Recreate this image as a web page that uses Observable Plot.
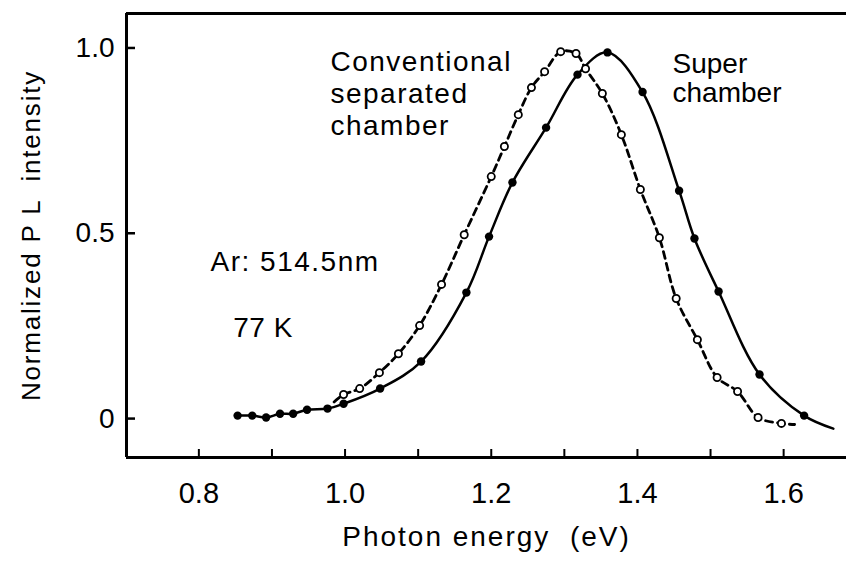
<!DOCTYPE html>
<html>
<head>
<meta charset="utf-8">
<script src="https://cdn.jsdelivr.net/npm/d3@7"></script>
<script src="https://cdn.jsdelivr.net/npm/@observablehq/plot@0.6"></script>
<style>
html, body { margin: 0; padding: 0; background: #fff; }
#chart svg { display: block; }
</style>
</head>
<body>
<div id="chart"></div>
<script>
// ---- Data ----
// Super chamber (filled circles, solid line)
const energySuper    = [0.853, 0.873, 0.892, 0.911, 0.929, 0.948, 0.976, 0.998, 1.048, 1.104, 1.166, 1.197, 1.229, 1.275, 1.318, 1.359, 1.407, 1.457, 1.478, 1.511, 1.567, 1.628];
const intensitySuper = [0.008, 0.008, 0.003, 0.013, 0.013, 0.024, 0.027, 0.040, 0.081, 0.154, 0.340, 0.491, 0.637, 0.785, 0.928, 0.988, 0.881, 0.615, 0.486, 0.343, 0.119, 0.008];
const superTail = {energy: 1.668, intensity: -0.027};

// Conventional separated chamber (open circles, dashed line)
const energyConv    = [0.998, 1.020, 1.047, 1.073, 1.102, 1.132, 1.163, 1.200, 1.218, 1.237, 1.255, 1.273, 1.295, 1.316, 1.329, 1.352, 1.378, 1.404, 1.430, 1.453, 1.482, 1.509, 1.537, 1.565, 1.597];
const intensityConv = [0.065, 0.081, 0.124, 0.175, 0.251, 0.362, 0.496, 0.653, 0.734, 0.820, 0.893, 0.936, 0.990, 0.985, 0.944, 0.877, 0.766, 0.618, 0.488, 0.324, 0.213, 0.111, 0.073, 0.003, -0.013];
const convHead = {energy: 0.985, intensity: 0.045};
const convTail = {energy: 1.615, intensity: -0.016};

// Axes
const xDomain = [0.701, 1.686];
const yDomain = [-0.105, 1.093];
const xTickValues = [0.8, 0.9, 1.0, 1.1, 1.2, 1.3, 1.4, 1.5, 1.6];
const xTickLabelValues = [0.8, 1.0, 1.2, 1.4, 1.6];
const xTickLabels = ["0.8", "1.0", "1.2", "1.4", "1.6"];
const yTickValues = [0, 0.5, 1.0];
const yTickLabels = ["0", "0.5", "1.0"];
const xTitle = "Photon energy  (eV)";
const yTitle = "Normalized P L  intensity";

// Annotations
const notes = [
  {text: "Conventional\nseparated\nchamber", energy: 0.980, intensity: 1.000, lh: 1.15, spacing: "1.5px"},
  {text: "Super\nchamber", energy: 1.448, intensity: 0.990, lh: 1.05, spacing: "0px"},
  {text: "Ar: 514.5nm", energy: 0.816, intensity: 0.451, lh: 1, spacing: "1.5px"},
  {text: "77 K", energy: 0.847, intensity: 0.273, lh: 1, spacing: "0.5px"}
];

// ---- Build tables ----
const superPts = energySuper.map((e, i) => ({energy: e, intensity: intensitySuper[i]}));
const convPts = energyConv.map((e, i) => ({energy: e, intensity: intensityConv[i]}));
const superLine = [...superPts, superTail];
const convLine = [convHead, ...convPts, convTail];

const font = "'Liberation Sans', Arial, Helvetica, sans-serif";

const chart = Plot.plot({
  width: 846,
  height: 563,
  marginLeft: 126,
  marginRight: 0,
  marginTop: 13,
  marginBottom: 106,
  style: {fontFamily: font, background: "#fff", color: "#000", overflow: "visible"},
  x: {domain: xDomain, axis: null},
  y: {domain: yDomain, axis: null},
  marks: [
    // frame: left, top, bottom
    Plot.ruleX([xDomain[0]], {stroke: "#000", strokeWidth: 3}),
    Plot.ruleY(yDomain, {stroke: "#000", strokeWidth: 3}),
    // inward ticks
    Plot.tickX(xTickValues, {x: d => d, insetTop: 436, stroke: "#000", strokeWidth: 2}),
    Plot.tickY(yTickValues, {y: d => d, insetRight: 711, stroke: "#000", strokeWidth: 2.5}),
    // tick labels
    Plot.text(xTickLabelValues, {x: d => d, frameAnchor: "bottom", dy: 45, text: (d, i) => xTickLabels[i], fontSize: 29, fill: "#000"}),
    Plot.text(yTickValues, {y: d => d, frameAnchor: "left", dx: -12, textAnchor: "end", text: (d, i) => yTickLabels[i], fontSize: 28, fill: "#000"}),
    // titles
    Plot.text([xTitle], {frameAnchor: "bottom", dy: 88, text: d => d, fontSize: 28, fill: "#000"}),
    Plot.text([yTitle], {frameAnchor: "left", dx: -95, rotate: -90, textAnchor: "middle", text: d => d, fontSize: 26, fill: "#000"}),
    // curves
    Plot.line(convLine, {x: "energy", y: "intensity", curve: "catmull-rom", stroke: "#000", strokeWidth: 2.8, strokeDasharray: "7,5"}),
    Plot.line(superLine, {x: "energy", y: "intensity", curve: "catmull-rom", stroke: "#000", strokeWidth: 2.5}),
    Plot.dot(convPts, {x: "energy", y: "intensity", r: 3.6, fill: "#fff", stroke: "#000", strokeWidth: 1.8}),
    Plot.dot(superPts, {x: "energy", y: "intensity", r: 4.2, fill: "#000", stroke: "none"}),
    // annotations
    ...notes.map(n => Plot.text([n], {
      x: "energy", y: "intensity", text: "text", textAnchor: "start", lineAnchor: "top",
      lineHeight: n.lh, fontSize: 28, fill: "#000"
    }))
  ]
});

// letter spacing (typesetting of the original figure is slightly wider)
const spacingByText = new Map([[xTitle, "2px"], [yTitle, "1.8px"]]);
notes.forEach(n => spacingByText.set(n.text.replace(/\n/g, ""), n.spacing));
d3.select(chart).selectAll("text").each(function () {
  const s = spacingByText.get(this.textContent);
  if (s) this.style.letterSpacing = s;
});

document.getElementById("chart").appendChild(chart);
</script>
</body>
</html>
